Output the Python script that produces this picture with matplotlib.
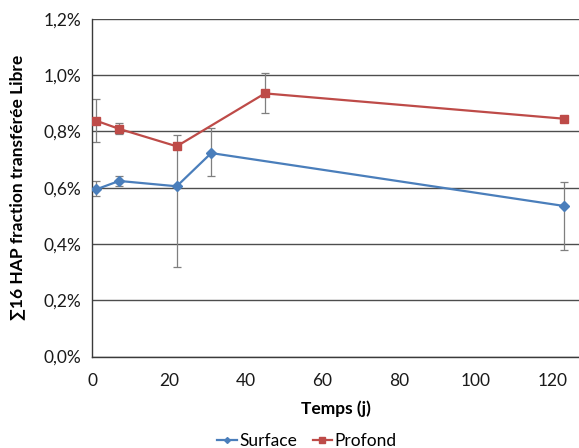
import matplotlib
matplotlib.use("Agg")
import matplotlib.pyplot as plt
from matplotlib.ticker import FuncFormatter

plt.rcParams['font.family'] = ['Lato', 'DejaVu Sans']

# Time (days) and mean free transferred fraction (%) for each layer
surface_t = [1, 7, 22, 31, 123]
surface_v = [0.594, 0.624, 0.605, 0.723, 0.535]
surface_err_low = [0.022, 0.017, 0.288, 0.082, 0.157]
surface_err_high = [0.030, 0.017, 0.181, 0.089, 0.085]

profond_t = [1, 7, 22, 45, 123]
profond_v = [0.838, 0.809, 0.747, 0.935, 0.845]
profond_err = [0.076, 0.020, 0.0, 0.071, 0.0]

y_ticks = [0.0, 0.2, 0.4, 0.6, 0.8, 1.0, 1.2]
x_ticks = [0, 20, 40, 60, 80, 100, 120]

blue = '#4a7ebb'
red = '#be4b48'
err_col = '#7f7f7f'

fig = plt.figure(figsize=(5.79, 4.48), dpi=100)
ax = fig.add_axes([92.3 / 579, 1 - 356.6 / 448, 1 - 92.3 / 579, (356.6 - 18.8) / 448])

ax.errorbar(surface_t, surface_v, yerr=[surface_err_low, surface_err_high],
            fmt='none', ecolor=err_col, elinewidth=0.9, capsize=3, capthick=0.9, zorder=2)
ax.errorbar(profond_t, profond_v, yerr=profond_err,
            fmt='none', ecolor=err_col, elinewidth=0.9, capsize=3, capthick=0.9, zorder=2)

ax.plot(surface_t, surface_v, color=blue, lw=1.6, marker='D', ms=4.6,
        label='Surface', zorder=3)
ax.plot(profond_t, profond_v, color=red, lw=1.6, marker='s', ms=6.3,
        label='Profond', zorder=3)

ax.set_xlim(0, (579 - 92.3) / ((552.7 - 92.3) / 120))
ax.set_ylim(0, 1.2)
ax.set_yticks(y_ticks)
ax.set_xticks(x_ticks)
ax.yaxis.set_major_formatter(FuncFormatter(lambda v, p: f"{v:.1f}%".replace('.', ',')))

ax.grid(axis='y', color='#4d4d4d', lw=1.0)
ax.set_axisbelow(True)
for s in ['top', 'right']:
    ax.spines[s].set_visible(False)
for s in ['left', 'bottom']:
    ax.spines[s].set_color('#3a3a3a')
    ax.spines[s].set_linewidth(1.0)
ax.tick_params(length=0, labelsize=12.5, colors='#1a1a1a', pad=8)
ax.tick_params(axis='x', pad=12)

ax.set_xlabel('Temps (j)', fontsize=12.5, fontweight='bold', labelpad=8)
ax.set_ylabel('∑16 HAP fraction transférée Libre', fontsize=12.5, fontweight='bold', labelpad=13)

fig.legend(loc='center', bbox_to_anchor=(307 / 579, 1 - 441 / 448), ncol=2,
           frameon=False, fontsize=12.5, handlelength=1.1, handletextpad=0.15,
           columnspacing=0.9, markerscale=0.65)

fig.savefig('out.png', dpi=100)
